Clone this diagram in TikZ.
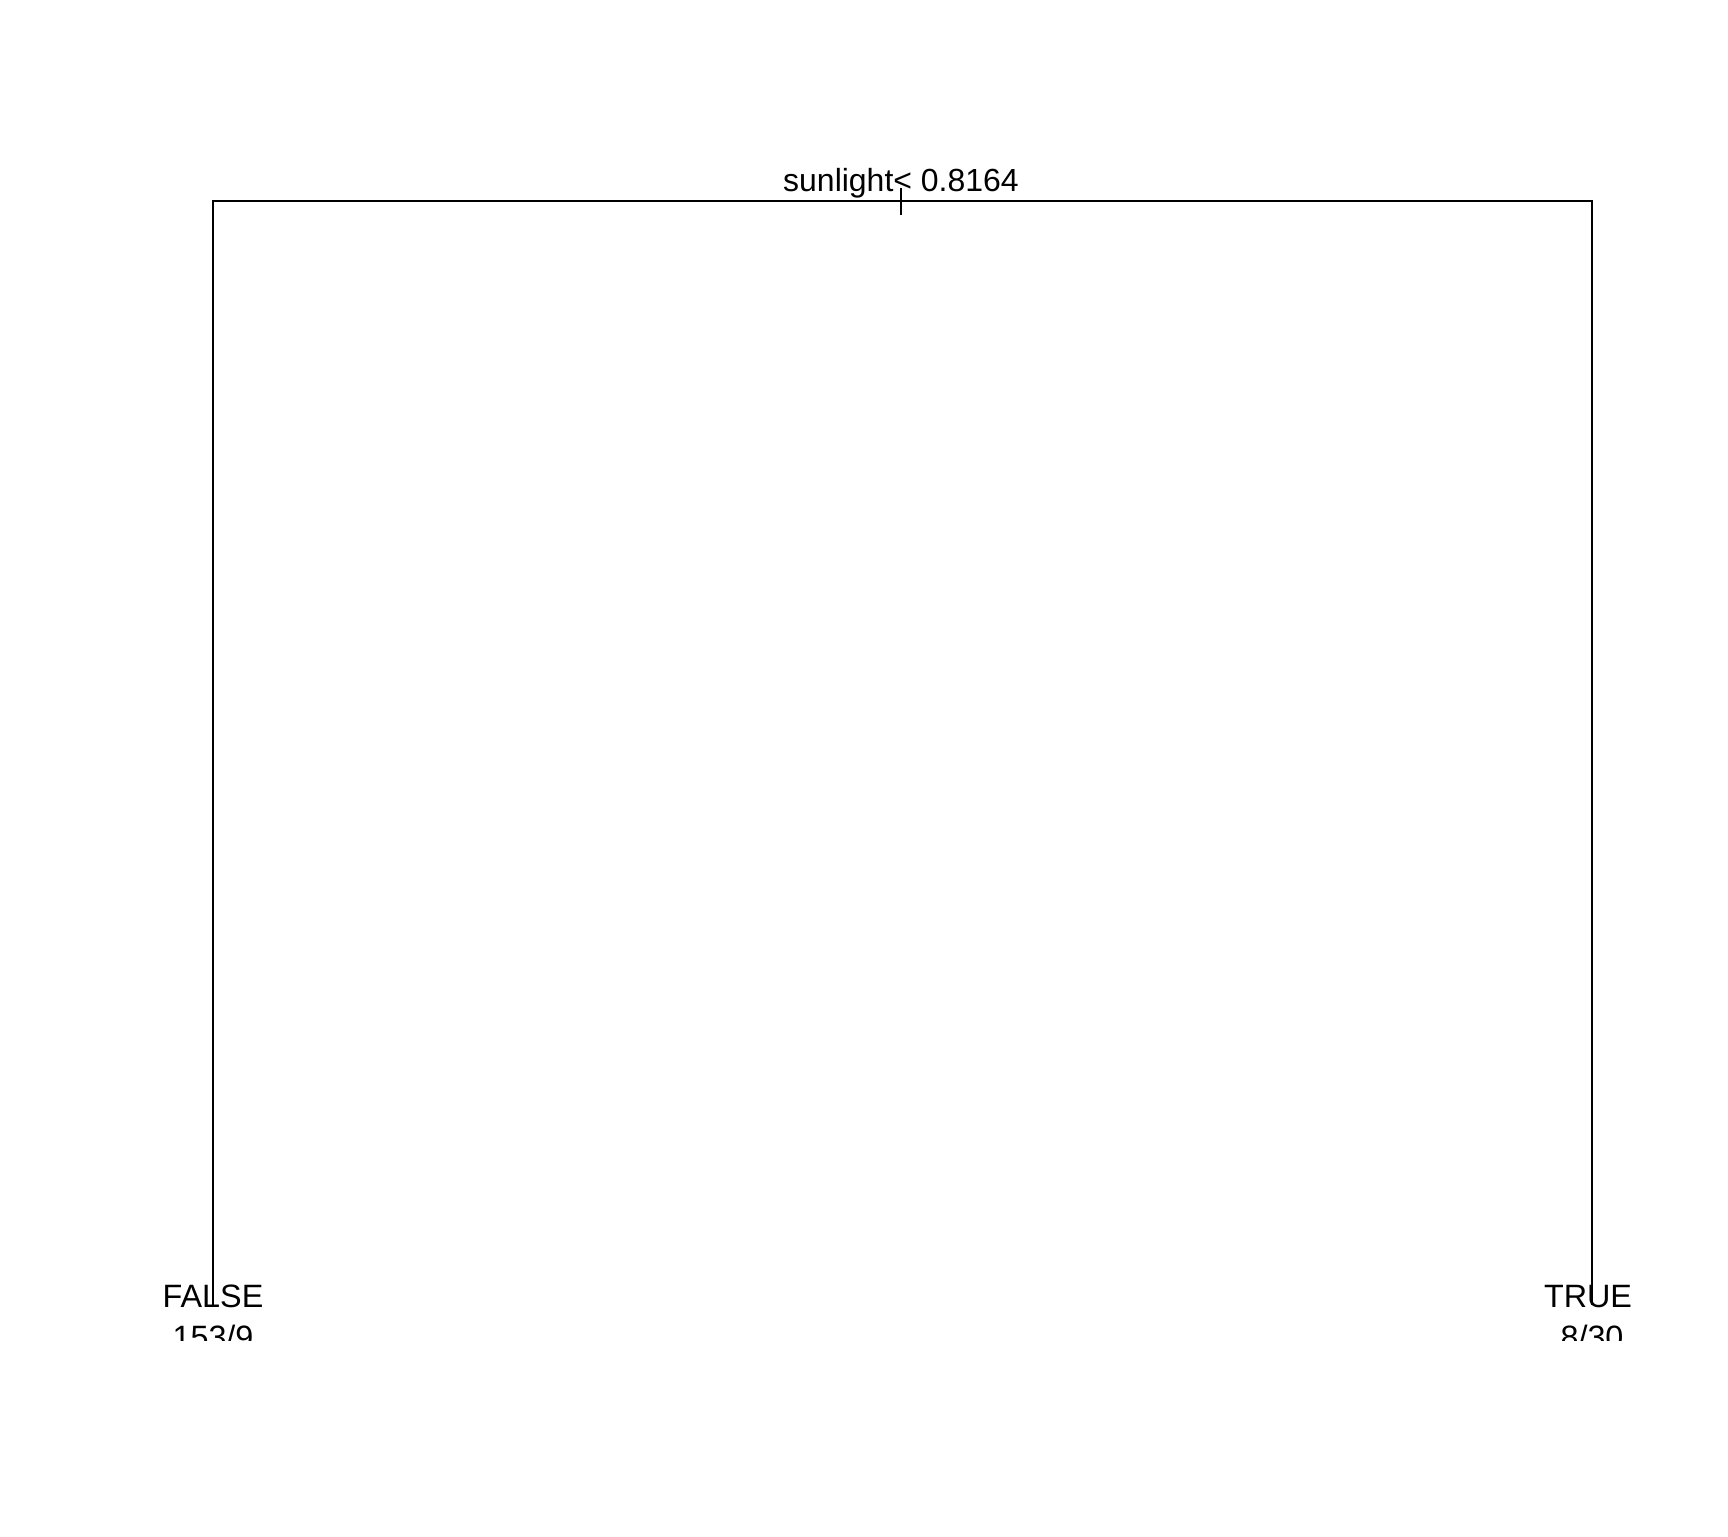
\documentclass[tikz,border=0pt]{standalone}
\usepackage{fontspec}
\setmainfont{Liberation Sans}
\tikzset{
  split/.style={font=\fontsize{18.2}{22}\selectfont, anchor=base},
  leaf/.style={font=\fontsize{18.4}{22}\selectfont, anchor=base},
  branch/.style={line width=0.85pt}
}
\begin{document}
\begin{tikzpicture}[x=0.02cm,y=-0.02cm]
  \useasboundingbox (0,0) rectangle (1728,1536);
  %% Tree: one split, two leaves
  % ROOT
  \coordinate (root) at (901,201);
  \node[split] (rootlabel) at (901,191) {sunlight< 0.8164};
  \draw[branch] (901,188) coordinate (ticktop) -- (901,215) coordinate (tickbot);
  
  % LEAVES (bottom text is cut off)
  \coordinate (lleaf) at (213,1305);
  \coordinate (rleaf) at (1592,1305);
  \begin{scope}
    \clip (0,0) rectangle (1728,1340);
    \node[leaf] (lclass) at (213,1307) {FALSE};
    \node[leaf] (lcount) at (213,1348) {153/9};
    \node[leaf] (rclass) at (1588,1307) {TRUE};
    \node[leaf] (rcount) at (1592,1348) {8/30};
  \end{scope}
  
  % BRANCHES
  \draw[branch] (lleaf) |- (root) -| (rleaf);
\end{tikzpicture}
\end{document}
